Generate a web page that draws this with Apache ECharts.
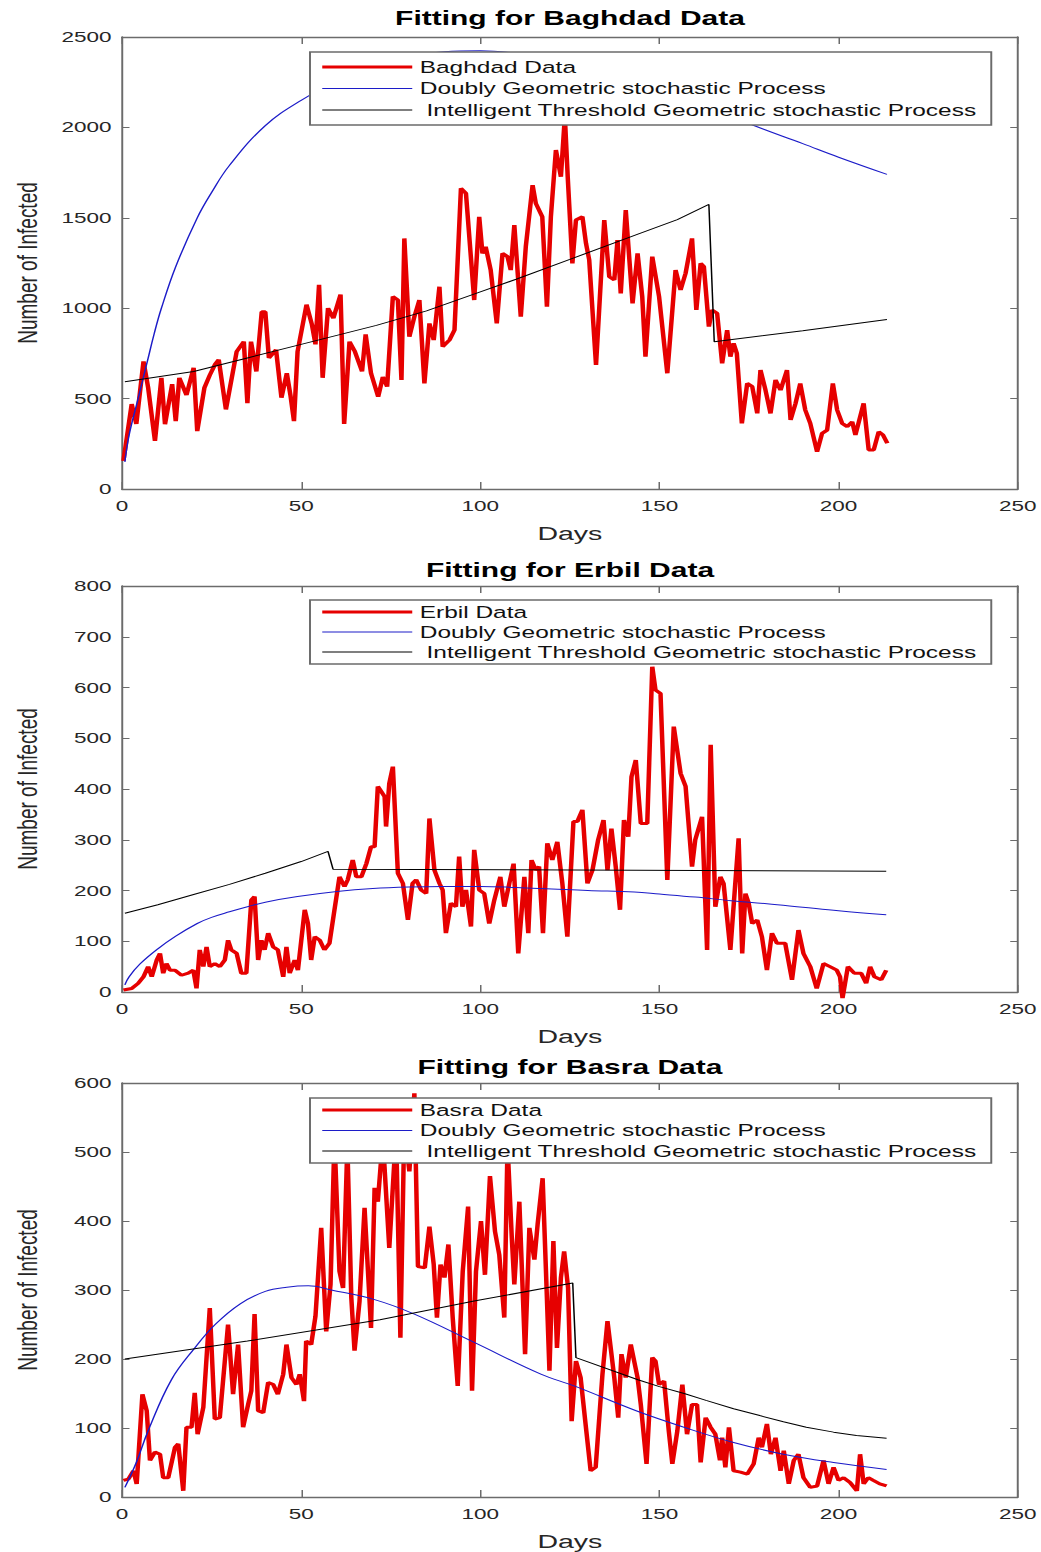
<!DOCTYPE html>
<html>
<head>
<meta charset="utf-8">
<title>Fitting for Baghdad, Erbil and Basra Data</title>
<script src="https://cdn.jsdelivr.net/npm/echarts@6.0.0/dist/echarts.min.js"></script>
<style>
  html, body { margin: 0; padding: 0; background: #fff; }
  /* the source figure is stretched sideways, so draw narrow and stretch */
  #chart { width: 694px; height: 1552px; transform: scaleX(1.5); transform-origin: 0 0; }
</style>
</head>
<body>
<div id="chart"></div>
<script>
var SX = 1.5;
function sx(v) { return v / SX; }

var doublyName = 'Doubly Geometric stochastic Process';
var thresholdName = ' Intelligent Threshold Geometric stochastic Process';

/* Baghdad: [day, infected] */
var baghdadData = [[0.4,155],[2.7,470],[4,360],[6,706],[7.3,560],[9.2,266],[11,615],[12,358],[14,580],[15,375],[16,615],[18,520],[20,670],[21,320],[23,560],[24.5,630],[26,690],[27,715],[29,440],[30.5,600],[32,760],[34,815],[35,475],[36,815],[37.5,650],[39,980],[40,980],[41,725],[43,770],[44.5,505],[46,640],[47,520],[48,375],[49,760],[51.5,1020],[53,910],[54,800],[55,1130],[56,615],[57.5,1000],[59,945],[61,1075],[62,360],[63.5,815],[65,760],[67,650],[68,855],[69.5,640],[71.5,510],[72.8,620],[74,566],[75.6,1064],[77,1045],[78,603],[78.8,1386],[80.2,842],[81.6,953],[83,1045],[84.4,584],[85.8,916],[87,824],[88.6,1119],[89.5,787],[91.4,824],[92.8,879],[94.6,1663],[96,1635],[98.3,1045],[99.7,1506],[100.6,1303],[101.5,1340],[102.9,1211],[104.6,916],[106.2,1303],[107.6,1285],[108.5,1211],[109.5,1460],[111.3,953],[112.7,1340],[114.6,1681],[115.5,1580],[117.3,1506],[118.6,1008],[119.7,1506],[121.1,1875],[122.5,1727],[123.6,2060],[124.4,1727],[125.7,1248],[126.7,1488],[128.5,1506],[129.5,1359],[130.4,1267],[132.3,686],[134.6,1488],[136,1174],[137.4,1156],[138.3,1377],[139.2,1082],[140.6,1543],[142.5,1027],[143.9,1303],[145.2,1064],[146.1,732],[148,1285],[149.9,1064],[152.2,640],[154.5,1211],[155.9,1101],[157.3,1193],[159.1,1386],[160.3,990],[161.5,1248],[162.4,1230],[163.8,898],[164.7,990],[166.1,972],[167.5,695],[168.9,879],[169.8,732],[170.7,806],[171.6,750],[173,363],[174.5,584],[175.9,566],[177.3,418],[178.2,658],[179.6,547],[181,418],[182.4,603],[183.8,547],[185.6,658],[186.6,382],[188,474],[189.3,584],[190.7,437],[192.1,363],[194,206],[195.4,308],[196.8,326],[198.4,584],[199.6,437],[201,363],[202.4,345],[203.8,372],[204.7,299],[207,474],[208.4,216],[209.8,216],[211.2,317],[212.4,299],[213.6,253]];
var baghdadDoubly = [[0.8,150],[2,300],[4.5,500],[7,700],[9,860],[11,1000],[15,1230],[21,1500],[25,1640],[30,1790],[40,2010],[50,2150],[60,2255],[70,2333],[80,2388],[90,2418],[100,2424],[110,2411],[120,2383],[130,2342],[140,2288],[150,2225],[160,2150],[170,2065],[176,2013],[190,1910],[200,1835],[213.5,1740]];
var baghdadThreshold = [[0.8,593],[20,650],[35,725],[50,800],[71,905],[85,985],[100,1090],[110,1160],[125,1270],[144,1410],[155,1490],[163.8,1574],[165.3,815],[190,875],[213.5,938]];

/* Erbil */
var erbilData = [[0.4,4],[2.7,7],[4.5,17],[6,30],[7.3,50],[8.3,30],[9.7,63],[10.6,76],[11.5,37],[12.4,56],[13.4,43],[14.8,43],[16.6,33],[18.5,37],[19.9,43],[20.8,7],[21.7,83],[22.7,50],[23.6,89],[24.5,50],[25.9,56],[27.3,50],[28.7,63],[29.6,102],[30.5,83],[32,76],[33.3,37],[34.7,37],[36.1,181],[37,188],[38,63],[38.9,102],[39.8,83],[40.8,116],[42.2,89],[43.5,83],[45,30],[45.9,89],[46.8,37],[48.2,63],[49.1,43],[51,162],[51.9,135],[52.8,63],[53.8,109],[55.2,102],[56.5,83],[57.9,96],[59.3,162],[60.7,227],[62.1,208],[63,221],[64.4,260],[65.4,227],[66.8,227],[68.2,253],[69.5,286],[70.5,286],[71.4,405],[73.3,385],[73.7,326],[74.6,411],[75.6,444],[77,234],[78.4,214],[79.8,142],[81.1,214],[82.1,221],[83.5,201],[84.9,194],[85.8,342],[87.2,240],[88.6,214],[89.5,201],[90.4,116],[91.8,175],[93.2,168],[94.1,267],[95,168],[96,201],[97.4,129],[98.3,280],[99.7,201],[101.1,194],[102.5,135],[103.9,181],[105.6,227],[106.7,168],[108.1,214],[109.3,253],[110.6,76],[112.3,227],[113.4,116],[114.3,260],[115.5,240],[116.4,247],[117.5,116],[118.7,293],[120.1,260],[121.5,296],[122.9,214],[124.3,109],[126,336],[127.1,336],[128.5,359],[129.9,214],[131.3,240],[132.9,300],[134.4,339],[135.5,240],[136.6,322],[137.8,247],[139,162],[140.1,339],[141.3,306],[142.2,424],[143.4,457],[144.8,332],[146.6,332],[148,641],[148.9,595],[150.3,588],[152.2,221],[154,523],[155.9,431],[157.3,405],[159.1,247],[160,300],[161.9,345],[163.3,83],[164.3,487],[165.6,168],[167,227],[167.9,214],[169.8,83],[172.1,303],[173.1,76],[174,194],[174.9,175],[175.9,135],[177.3,142],[178.6,109],[180,43],[181.4,116],[182.8,96],[185.1,96],[187,24],[188.8,122],[190.2,76],[192.1,50],[193.9,7],[195.8,56],[197.6,50],[199.5,43],[200.4,30],[201.1,-12],[202.6,50],[204.4,37],[206.3,37],[207.7,17],[208.8,50],[210,30],[211.9,24],[213.3,43]];
var erbilDoubly = [[0.8,14],[2,30],[5,55],[10,85],[15,110],[21,135],[25,147],[30,158],[35,168],[40,177],[49,188],[60,198],[70,204],[80,207],[90,208],[100,208],[110,206],[120,203],[130,200],[143,197],[150,193],[160,187],[170,180],[180,174],[190,167],[200,160],[213.3,152]];
var erbilThreshold = [[0.8,155],[10,172],[20,192],[30,212],[40,234],[50,257],[57.5,277],[58.9,242],[213.3,238]];

/* Basra */
var basraData = [[0.4,24],[1.8,26],[3.2,38],[4.1,19],[5.7,149],[6.9,125],[7.8,53],[9.2,65],[10.6,62],[11.5,28],[12.9,28],[14.8,72],[15.7,77],[17.1,9],[18,101],[19.4,101],[20.3,151],[21.1,91],[22.7,130],[24.5,274],[25.9,113],[27.3,115],[29.6,250],[31,149],[32.4,221],[33.8,101],[35.2,134],[36.1,154],[37,265],[38,125],[39.4,122],[40.8,166],[42.2,163],[43.5,149],[45,178],[45.9,221],[47.3,173],[48.7,163],[49.6,178],[50.8,139],[51.4,226],[52.8,221],[54,262],[55.6,390],[57,240],[58.2,308],[59.3,520],[60.7,327],[61.7,303],[62.9,510],[64,289],[64.9,212],[66.3,284],[67.7,419],[69.5,245],[70.5,448],[71.4,428],[72.8,520],[74.6,361],[76.5,530],[77.7,231],[78.8,540],[80.2,472],[81.6,585],[82.6,334],[84.5,332],[85.8,392],[87,337],[87.9,260],[88.9,337],[90,318],[91.1,366],[92.3,260],[93.7,161],[95.1,327],[96.6,421],[97.7,154],[98.8,327],[100.2,400],[101.3,322],[102.7,465],[104.1,385],[105.3,351],[106.7,260],[107.6,510],[108.8,375],[109.5,308],[110.9,428],[112.5,207],[113.7,390],[115.1,344],[116,395],[117.4,462],[118.3,332],[119.3,183],[120.4,371],[121.4,216],[122.5,318],[123.4,356],[124.5,303],[125.5,110],[126.7,197],[128,173],[129.4,105],[130.8,38],[132.2,43],[134.1,178],[135.5,255],[137.4,173],[138.5,115],[139.4,207],[140.6,173],[142,221],[143.9,173],[144.8,134],[146.4,48],[148,202],[148.9,197],[149.9,163],[151.3,168],[152.6,96],[153.6,48],[155,96],[156.4,163],[157.7,91],[159.1,134],[160.5,134],[161.5,50],[162.9,115],[164.3,101],[165.6,91],[166.9,53],[167.5,86],[168.4,43],[169.4,101],[170.7,38],[172.6,36],[174.5,33],[176.3,48],[177.7,86],[178.6,72],[180,106],[181.1,62],[182.4,86],[183.8,38],[184.7,67],[186.1,19],[187.5,53],[188.8,62],[190.2,28],[192.1,14],[194,16],[195.8,53],[197.2,19],[198.6,43],[200,24],[201.4,28],[203.2,21],[205.1,9],[206,62],[207,19],[208.3,28],[209.7,24],[211.5,19],[213.4,16]];
var basraDoubly = [[0.8,14],[4,50],[7.3,96],[13.8,170],[20.3,216],[26,250],[33,280],[40,298],[46,304],[52,306],[58.4,300],[70.5,286],[81.6,265],[98.3,224],[116.9,178],[126.2,161],[143.5,125],[156.9,101],[170.7,79],[184.6,62],[198.6,50],[213.4,40]];
var basraThreshold = [[0.8,200],[35,226],[72,257],[98.3,284],[125.8,310],[126.7,202],[144,170],[150,160],[156.9,150],[163,140],[170.7,128],[178,118],[184.6,109],[191,101],[198.6,94],[205,89],[213.4,85]];

var dayMax = 250, dayStep = 50;

// layout in pixels of the 1041-wide picture
var panels = [
  { title: 'Fitting for Baghdad Data', dataName: 'Baghdad Data', data: baghdadData, doubly: baghdadDoubly, threshold: baghdadThreshold,
    yMax: 2500, yStep: 500, titleTop: 8, top: 37, bottom: 489, legendTop: 52, legendGap: 5.5, legendPad: 7 },
  { title: 'Fitting for Erbil Data', dataName: 'Erbil Data', data: erbilData, doubly: erbilDoubly, threshold: erbilThreshold,
    yMax: 800, yStep: 100, titleTop: 560, top: 586, bottom: 992, legendTop: 600, legendGap: 4, legendPad: 4 },
  { title: 'Fitting for Basra Data', dataName: 'Basra Data', data: basraData, doubly: basraDoubly, threshold: basraThreshold,
    yMax: 600, yStep: 100, titleTop: 1057, top: 1083, bottom: 1498, legendTop: 1098, legendGap: 4.5, legendPad: 4 }
];

var font = 'Liberation Sans, Arial, sans-serif';
var boxColor = '#6b6b6b';
var red = '#e60000', blue = '#1c1cc8';

var chart = echarts.init(document.getElementById('chart'), null, { renderer: 'svg', width: 694, height: 1552 });
var option = {
  animation: false,
  backgroundColor: '#fff',
  title: [], grid: [], xAxis: [], yAxis: [], legend: [], series: []
};

panels.forEach(function (p, i) {
  var line = { show: true, onZero: false, lineStyle: { color: boxColor, width: 1.3 } };
  option.title.push({
    text: p.title, left: sx(570), top: p.titleTop, textAlign: 'center', padding: 0,
    textStyle: { fontFamily: font, fontSize: 20, fontWeight: 'bold', color: '#000' }
  });
  option.grid.push({ left: sx(122), width: sx(1019 - 122), top: p.top, height: p.bottom - p.top });

  // bottom + top x axes, left + right y axes give the closed box
  option.xAxis.push({
    type: 'value', gridIndex: i, min: 0, max: dayMax, interval: dayStep, position: 'bottom',
    name: 'Days', nameLocation: 'middle', nameGap: 35,
    nameTextStyle: { fontFamily: font, fontSize: 19, color: '#262626' },
    axisLine: line, axisTick: { inside: true, length: 7, lineStyle: { color: boxColor } },
    axisLabel: { margin: 9, fontFamily: font, fontSize: 15, color: '#262626' },
    splitLine: { show: false }
  });
  option.xAxis.push({
    type: 'value', gridIndex: i, min: 0, max: dayMax, interval: dayStep, position: 'top',
    axisLine: line, axisTick: { inside: true, length: 7, lineStyle: { color: boxColor } },
    axisLabel: { show: false }, splitLine: { show: false }
  });
  option.yAxis.push({
    type: 'value', gridIndex: i, min: 0, max: p.yMax, interval: p.yStep, position: 'left',
    name: 'Number of Infected', nameLocation: 'middle', nameGap: 54,
    nameTextStyle: { fontFamily: font, fontSize: 19, color: '#262626' },
    axisLine: line, axisTick: { inside: true, length: 5, lineStyle: { color: boxColor } },
    axisLabel: { margin: 7, fontFamily: font, fontSize: 15, color: '#262626', formatter: function (v) { return String(v); } },
    splitLine: { show: false }
  });
  option.yAxis.push({
    type: 'value', gridIndex: i, min: 0, max: p.yMax, interval: p.yStep, position: 'right',
    axisLine: line, axisTick: { inside: true, length: 5, lineStyle: { color: boxColor } },
    axisLabel: { show: false }, splitLine: { show: false }
  });

  var xi = i * 2, yi = i * 2;
  option.series.push({
    name: p.dataName, type: 'line', xAxisIndex: xi, yAxisIndex: yi, data: p.data,
    symbol: 'none', clip: false, lineStyle: { color: red, width: 3 }, itemStyle: { color: red }
  });
  option.series.push({
    name: doublyName, type: 'line', xAxisIndex: xi, yAxisIndex: yi, data: p.doubly,
    symbol: 'none', smooth: 0.4, lineStyle: { color: blue, width: 1 }, itemStyle: { color: blue }
  });
  option.series.push({
    name: thresholdName, type: 'line', xAxisIndex: xi, yAxisIndex: yi, data: p.threshold,
    symbol: 'none', lineStyle: { color: '#000', width: 1 }, itemStyle: { color: '#000' }
  });

  option.legend.push({
    orient: 'vertical', left: sx(310), top: p.legendTop, z: 10, selectedMode: false,
    data: [
      { name: p.dataName, lineStyle: { width: 3, color: red } },
      { name: doublyName, lineStyle: { width: 1, color: blue } },
      { name: thresholdName, lineStyle: { width: 1, color: '#000' } }
    ],
    itemWidth: sx(90), itemHeight: 14, itemGap: p.legendGap,
    itemStyle: { opacity: 0 },   // line only, no marker
    padding: [p.legendPad, 10, p.legendPad, sx(10)],
    backgroundColor: '#fff', borderColor: boxColor, borderWidth: 1.3, borderRadius: 0,
    textStyle: { fontFamily: font, fontSize: 16.3, color: '#111' }
  });
});

chart.setOption(option);
</script>
</body>
</html>
